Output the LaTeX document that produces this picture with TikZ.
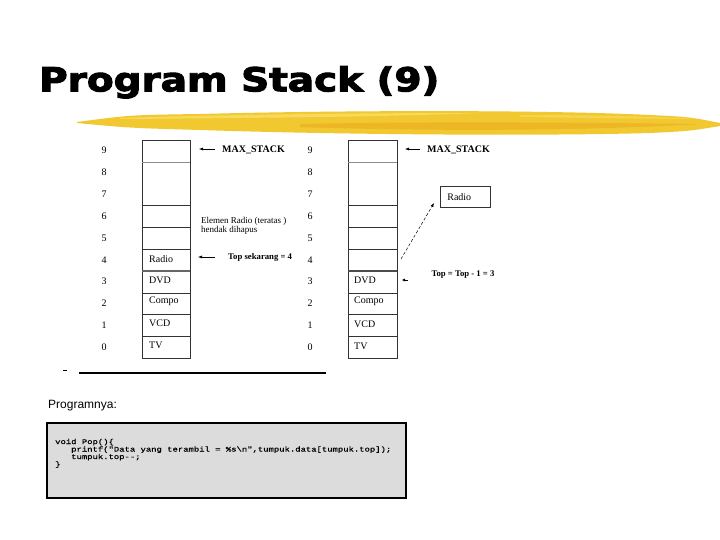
\documentclass[tikz,border=0pt]{standalone}
\usepackage{fontspec}
\setmainfont{Liberation Serif}
\newfontfamily\titlefont[BoldFeatures={FakeBold=3}]{DejaVu Sans}
\newfontfamily\sansfont{Liberation Sans}
\newfontfamily\codefont[FakeBold=0.6]{Liberation Mono}
\usetikzlibrary{arrows.meta}
\definecolor{brushY}{RGB}{242,200,48}
\definecolor{brushO}{RGB}{232,170,30}
\definecolor{brushL}{RGB}{250,225,110}
\definecolor{codebg}{RGB}{220,220,220}
\tikzset{
  idx/.style={font=\fontsize{10}{10}\selectfont, inner sep=0},
  celltxt/.style={font=\fontsize{10}{10}\selectfont, anchor=west, inner sep=0},
  boldlbl/.style={font=\bfseries\fontsize{9}{9}\selectfont, inner sep=0},
  arr/.style={-{Latex[length=4pt,width=3pt]}, line width=0.5pt},
  cellline/.style={line width=0.7pt, black!80},
  codeline/.style={anchor=base west, inner sep=0},
}
\newcommand{\codetxt}[1]{\scalebox{1.27}[1]{\codefont\fontsize{7}{7}\selectfont #1}}
\begin{document}
\begin{tikzpicture}[x=1pt,y=-1pt]
\useasboundingbox (0,0) rectangle (720,540);
\fill[white] (0,0) rectangle (720,540);

% title
\node[anchor=base west, inner sep=0] (title) at (39,91.3)
  {\scalebox{1.18}[1]{\titlefont\bfseries\fontsize{33}{33}\selectfont Program Stack (9)}};

% brush stroke
\fill[brushY] (77,122) .. controls (130,115) .. (200,114)
  .. controls (350,110) and (550,110) .. (650,115)
  .. controls (690,117) .. (720,123) -- (720,126)
  .. controls (690,131) .. (650,133)
  .. controls (550,136) and (350,135) .. (200,130)
  .. controls (130,128) .. (77,123) -- cycle;
\fill[brushO, opacity=0.6] (300,124) .. controls (450,121) and (600,123) .. (700,124)
  .. controls (600,130) and (450,132) .. (300,127) -- cycle;
\fill[brushL, opacity=0.7] (120,118) .. controls (250,114) and (380,113) .. (480,113)
  .. controls (380,117) and (250,118) .. (120,119) -- cycle;
\fill[brushL, opacity=0.5] (520,115) .. controls (600,115) and (660,117) .. (700,119)
  .. controls (660,119) and (600,118) .. (520,117) -- cycle;

% left stack
\draw[cellline] (142,140) rectangle (190,358);
\draw[black!45, line width=0.6pt] (142,162) -- (190,162);
\foreach \y in {205,227,249,293,314,336} \draw[cellline] (142,\y) -- (190,\y);
\draw[black!60, line width=1.4pt] (142,271) -- (190,271);

% right stack
\draw[cellline] (348,140) rectangle (397,358);
\draw[black!45, line width=0.6pt] (348,162) -- (397,162);
\foreach \y in {205,227,249,293,314,336} \draw[cellline] (348,\y) -- (397,\y);
\draw[black!70, line width=1.1pt] (348,271) -- (397,271);

% index labels
\foreach \n/\y in {9/150,8/172,7/194,6/216,5/238,4/260,3/281,2/303,1/325,0/347} {
  \node[idx] (li\n) at (104,\y) {\n};
  \node[idx] (mi\n) at (310,\y) {\n};
}

% left cell texts
\node[celltxt] (lradio) at (149,259) {Radio};
\node[celltxt] (ldvd) at (149,280.5) {DVD};
\node[celltxt] (lcompo) at (149,301.5) {Compo};
\node[celltxt] (lvcd) at (149,323) {VCD};
\node[celltxt] (ltv) at (149,345) {TV};

% right cell texts
\node[celltxt] (rdvd) at (354,280.5) {DVD};
\node[celltxt] (rcompo) at (354,301.5) {Compo};
\node[celltxt] (rvcd) at (354,324) {VCD};
\node[celltxt] (rtv) at (354,346) {TV};

% left annotations
\node[boldlbl, font=\bfseries\fontsize{10}{10}\selectfont, anchor=west] (max1) at (222,150) {MAX\_STACK};
\coordinate (m1s) at (215,149);
\coordinate (m1e) at (199,149);
\draw[arr] (m1s) -- (m1e);

\node[inner sep=0, anchor=base west, font=\fontsize{9}{9}\selectfont] (elem1) at (201,223) {Elemen Radio (teratas )};
\node[inner sep=0, anchor=base west, font=\fontsize{9}{9}\selectfont] (elem2) at (201,233) {hendak dihapus};

\node[boldlbl, font=\bfseries\fontsize{8.7}{8.7}\selectfont, anchor=west] (topnow) at (228,257.5) {Top sekarang = 4};
\coordinate (t1s) at (215,257);
\coordinate (t1e) at (198,257);
\draw[arr] (t1s) -- (t1e);

% right annotations
\node[boldlbl, font=\bfseries\fontsize{10}{10}\selectfont, anchor=west] (max2) at (427,150) {MAX\_STACK};
\coordinate (m2s) at (420,149);
\coordinate (m2e) at (405,149);
\draw[arr] (m2s) -- (m2e);

\node[draw=black!80, line width=0.7pt, anchor=west, minimum height=21pt, text width=36pt,
      inner xsep=7pt, align=left, font=\fontsize{10}{10}\selectfont] (radiobox) at (440,197) {Radio};
\coordinate (ds) at (401,259);
\coordinate (de) at (434,203);
\draw[arr, densely dashed, line width=0.5pt] (ds) -- (de);

\coordinate (ss) at (408,280);
\coordinate (se) at (402,280);
\draw[-{Latex[length=3pt,width=3pt]}, line width=0.4pt] (ss) -- (se);

\node[boldlbl, font=\bfseries\fontsize{8.7}{8.7}\selectfont] (topnew) at (463,275) {Top = Top - 1 = 3};

% bottom line
\draw[line width=1pt] (63,370) -- (67,370);
\draw[line width=1.8pt] (79,373) -- (326,373);

\node[anchor=base west, inner sep=0, font=\sansfont\fontsize{12}{12}\selectfont] (prog) at (48,408) {Programnya:};

% code box
\node[draw=black, line width=2pt, fill=codebg, minimum width=359pt, minimum height=75pt,
      anchor=north west, inner sep=0] (codebox) at (46,422) {};
\node[codeline] (c1) at (55,444) {\codetxt{void Pop()\{}};
\node[codeline] (c2) at (55,451.5) {\codetxt{\ \ \ printf("Data yang terambil = \%s\textbackslash n",tumpuk.data[tumpuk.top]);}};
\node[codeline] (c3) at (55,459) {\codetxt{\ \ \ tumpuk.top-{}-;}};
\node[codeline] (c4) at (55,466.5) {\codetxt{\}}};
\end{tikzpicture}
\end{document}
